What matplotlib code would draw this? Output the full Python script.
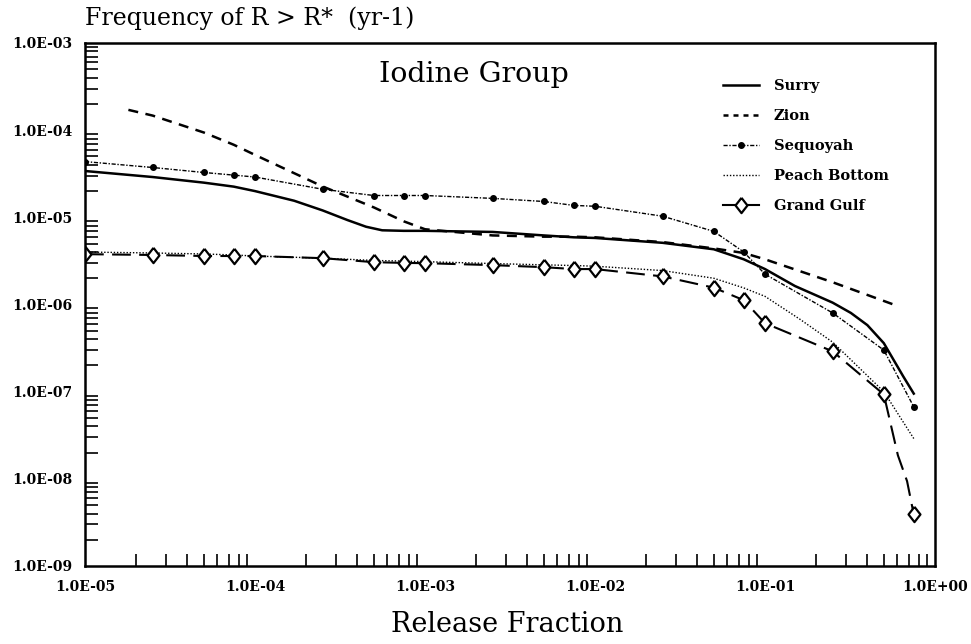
import numpy as np
import matplotlib
matplotlib.use("Agg")
import matplotlib.pyplot as plt
from matplotlib.lines import Line2D
from matplotlib.ticker import FixedLocator, LogLocator, NullFormatter, FuncFormatter

# ---------------- data ----------------
x_grid = [1e-5, 2.5e-5, 5e-5, 7.5e-5, 1e-4, 2.5e-4, 5e-4, 7.5e-4, 1e-3,
          2.5e-3, 5e-3, 7.5e-3, 1e-2, 2.5e-2, 5e-2, 7.5e-2, 1e-1, 2.5e-1,
          5e-1, 7.5e-1]

surry_x = [1e-5, 2.5e-5, 5e-5, 7.5e-5, 1e-4, 1.7e-4, 2.5e-4, 3.5e-4, 4.5e-4,
           5.6e-4, 7.5e-4, 1e-3, 2.5e-3, 5e-3, 7.5e-3, 1e-2, 2.5e-2, 5e-2,
           7.5e-2, 1e-1, 1.5e-1, 2.5e-1, 3.2e-1, 4e-1, 5e-1, 6.5e-1, 7.5e-1]
surry_y = [3.4e-5, 2.9e-5, 2.5e-5, 2.25e-5, 2.0e-5, 1.55e-5, 1.2e-5, 9.3e-6,
           7.8e-6, 7.1e-6, 7.0e-6, 7.0e-6, 6.8e-6, 6.2e-6, 5.9e-6, 5.8e-6,
           5.1e-6, 4.3e-6, 3.3e-6, 2.55e-6, 1.63e-6, 1.05e-6, 8.0e-7, 5.8e-7,
           3.6e-7, 1.5e-7, 9.5e-8]

zion_x = [1.8e-5, 2.5e-5, 5e-5, 7.5e-5, 1e-4, 2.5e-4, 5e-4, 7.5e-4, 1e-3,
          2.5e-3, 5e-3, 7.5e-3, 1e-2, 2.5e-2, 5e-2, 7.5e-2, 1e-1, 2.5e-1, 5.7e-1]
zion_y = [1.71e-4, 1.47e-4, 9.4e-5, 6.8e-5, 5.2e-5, 2.26e-5, 1.3e-5, 9.0e-6,
          7.3e-6, 6.2e-6, 6.0e-6, 6.0e-6, 5.9e-6, 5.2e-6, 4.4e-6, 3.9e-6,
          3.3e-6, 1.8e-6, 1.0e-6]

sequoyah_y = [4.36e-5, 3.73e-5, 3.27e-5, 3.05e-5, 2.9e-5, 2.1e-5, 1.78e-5,
              1.78e-5, 1.78e-5, 1.65e-5, 1.52e-5, 1.37e-5, 1.34e-5, 1.03e-5,
              6.9e-6, 4.0e-6, 2.23e-6, 8.0e-7, 3.0e-7, 6.7e-8]

peach_x = [1e-5, 2.5e-5, 5e-5, 7.5e-5, 1e-4, 2.5e-4, 5e-4, 7.5e-4, 1e-3,
           2.5e-3, 5e-3, 7.5e-3, 1e-2, 2.5e-2, 5e-2, 7.5e-2, 1e-1, 1.6e-1,
           2.5e-1, 5e-1, 7.5e-1]
peach_y = [4.0e-6, 3.9e-6, 3.8e-6, 3.7e-6, 3.6e-6, 3.4e-6, 3.2e-6, 3.15e-6,
           3.1e-6, 2.95e-6, 2.85e-6, 2.8e-6, 2.75e-6, 2.45e-6, 2.0e-6,
           1.55e-6, 1.24e-6, 6.8e-7, 3.7e-7, 1.0e-7, 2.9e-8]

grand_gulf_y = [3.78e-6, 3.7e-6, 3.6e-6, 3.6e-6, 3.6e-6, 3.4e-6, 3.06e-6,
                3.0e-6, 2.98e-6, 2.83e-6, 2.68e-6, 2.55e-6, 2.55e-6, 2.1e-6,
                1.56e-6, 1.12e-6, 6.1e-7, 2.9e-7, 9.3e-8, 3.9e-9]
# extra points read along the Grand Gulf curve between its last two markers
grand_gulf_tail_x = [5e-1, 6.05e-1, 6.85e-1, 7.5e-1]
grand_gulf_tail_y = [9.3e-8, 1.86e-8, 9.4e-9, 3.9e-9]

x_ticks = [1e-5, 1e-4, 1e-3, 1e-2, 1e-1, 1e0]
y_ticks = [1e-9, 1e-8, 1e-7, 1e-6, 1e-5, 1e-4, 1e-3]
series_names = ["Surry", "Zion", "Sequoyah", "Peach Bottom", "Grand Gulf"]

# ---------------- figure ----------------
fig = plt.figure(figsize=(9.71, 6.44), dpi=100)
ax = fig.add_axes([85/971, 1-566/644, 850/971, 523/644])
ax.set_xscale("log")
ax.set_yscale("log")
ax.set_xlim(1e-5, 1e0)
ax.set_ylim(1e-9, 1e-3)

diamond = [(0, 1), (0.78, 0), (0, -1), (-0.78, 0), (0, 1)]

ax.plot(surry_x, surry_y, color="black", lw=1.8, ls="-")
ax.plot(zion_x, zion_y, color="black", lw=1.8, ls=(0, (4, 3)))
ax.plot(x_grid, sequoyah_y, color="black", lw=1.0, ls=(0, (3, 1.2, 1, 1.2)),
        marker="o", ms=4, mfc="black", mec="black")
ax.plot(peach_x, peach_y, color="black", lw=1.0, ls=(0, (1, 1.3)))
gg_line_x = x_grid[:-2] + grand_gulf_tail_x
gg_line_y = grand_gulf_y[:-2] + grand_gulf_tail_y
ax.plot(gg_line_x, gg_line_y, color="black", lw=1.5, ls=(0, (9, 4)))
ax.plot(x_grid, grand_gulf_y, ls="none", marker=diamond, ms=11,
        mfc="white", mec="black", mew=1.6)

# ticks
serif = "DejaVu Serif"
fmt = FuncFormatter(lambda v, p: "1.0E%+03d" % int(round(np.log10(v))))
ax.xaxis.set_major_locator(FixedLocator(x_ticks))
ax.yaxis.set_major_locator(FixedLocator(y_ticks))
ax.xaxis.set_major_formatter(fmt)
ax.yaxis.set_major_formatter(fmt)
ax.xaxis.set_minor_locator(LogLocator(base=10, subs=np.arange(2, 10)))
ax.yaxis.set_minor_locator(LogLocator(base=10, subs=np.arange(2, 10)))
ax.xaxis.set_minor_formatter(NullFormatter())
ax.yaxis.set_minor_formatter(NullFormatter())
ax.tick_params(which="major", length=0, labelsize=10)
ax.tick_params(axis="x", which="major", pad=10)
ax.tick_params(axis="y", which="major", pad=9)
ax.tick_params(which="minor", direction="in", length=9, width=1.2,
               top=False, right=False)
for lab in ax.get_xticklabels() + ax.get_yticklabels():
    lab.set_fontfamily(serif)
    lab.set_fontweight("bold")

for s in ax.spines.values():
    s.set_linewidth(1.8)

# texts
fig.text(85/971, 1-18/644, "Frequency of R > R*  (yr-1)", family=serif,
         fontsize=17, ha="left", va="center")
ax.text(0.457, 0.94, "Iodine Group", transform=ax.transAxes, family=serif,
        fontsize=20.5, ha="center", va="center")
fig.text(507/971, 1-625/644, "Release Fraction", family=serif,
         fontsize=19.5, ha="center", va="center")

handles = [
    Line2D([], [], color="black", lw=1.8, ls="-"),
    Line2D([], [], color="black", lw=1.8, ls=(0, (2, 2))),
    Line2D([], [], color="black", lw=1.0, ls=(0, (3, 1.2, 1, 1.2)),
           marker="o", ms=4, mfc="black", mec="black"),
    Line2D([], [], color="black", lw=1.0, ls=(0, (1, 1.3))),
    Line2D([], [], color="black", lw=1.5, ls="-", marker=diamond, ms=11,
           mfc="white", mec="black", mew=1.6),
]
leg = ax.legend(handles, series_names, loc="upper left",
                bbox_to_anchor=(0.735, 0.957), frameon=False,
                handlelength=2.5, labelspacing=1.1, handletextpad=1.0,
                prop={"family": serif, "weight": "bold", "size": 10.5})

fig.savefig("out.png", dpi=100)
